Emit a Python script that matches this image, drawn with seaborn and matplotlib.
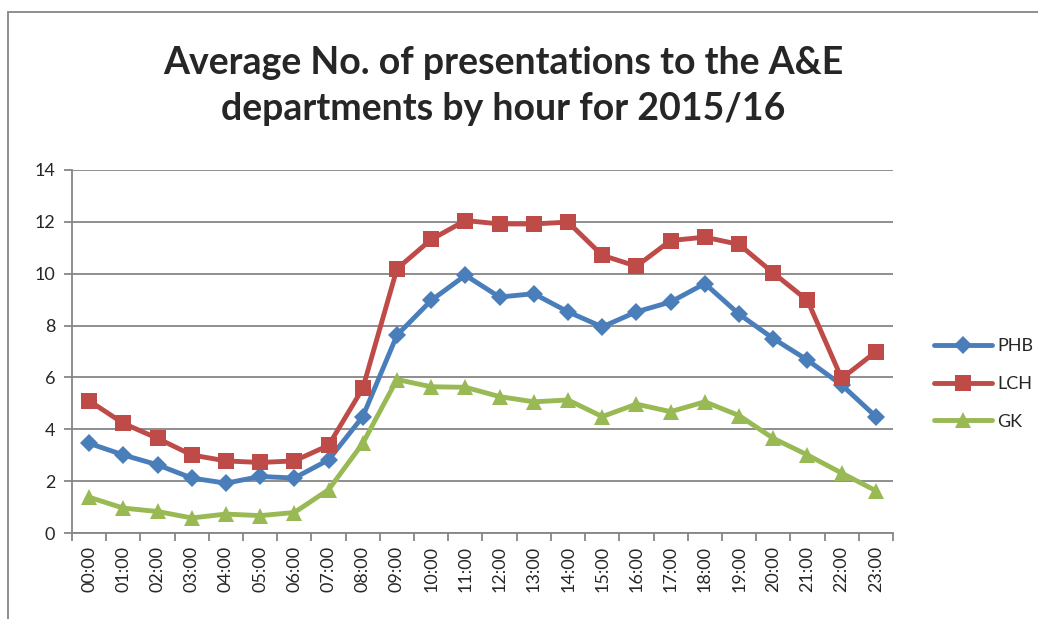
import numpy as np
import pandas as pd
import matplotlib
matplotlib.use("Agg")
import matplotlib.pyplot as plt
from matplotlib.lines import Line2D
import seaborn as sns

sns.set_theme(style="white")
plt.rcParams['font.family'] = ['Lato', 'DejaVu Sans']

hours = ["%02d:00" % h for h in range(24)]
phb = [3.46, 3.01, 2.63, 2.12, 1.92, 2.18, 2.12, 2.82, 4.49, 7.63, 8.97, 9.94,
       9.10, 9.23, 8.53, 7.95, 8.53, 8.91, 9.62, 8.44, 7.50, 6.67, 5.71, 4.49]
lch = [5.10, 4.23, 3.65, 3.01, 2.78, 2.72, 2.78, 3.38, 5.58, 10.19, 11.32, 12.05,
       11.92, 11.92, 11.99, 10.71, 10.29, 11.28, 11.41, 11.13, 10.03, 8.97, 5.96, 6.99]
gk = [1.38, 0.96, 0.83, 0.58, 0.73, 0.67, 0.79, 1.67, 3.46, 5.92, 5.64, 5.62,
      5.26, 5.06, 5.13, 4.49, 4.97, 4.68, 5.06, 4.53, 3.65, 3.01, 2.31, 1.63]
series = ["PHB", "LCH", "GK"]
colors = {"PHB": "#4A7EBB", "LCH": "#BE4B48", "GK": "#98B954"}
markers = {"PHB": "D", "LCH": "s", "GK": "^"}
msize = {"PHB": 9, "LCH": 11, "GK": 12}

df = pd.DataFrame({
    "pos": np.tile(np.arange(len(hours)), 3),
    "value": phb + lch + gk,
    "site": np.repeat(series, len(hours)),
})

fig = plt.figure(figsize=(10.38, 6.19), dpi=100)
ax = fig.add_axes([72/1038, 1-533/619, (893-72)/1038, (533-170)/619])

sns.lineplot(data=df, x="pos", y="value", hue="site", style="site",
             palette=colors, markers=markers, dashes=False, linewidth=3.5,
             markersize=11, markeredgewidth=0, ax=ax, legend=False)
for ln, s in zip(ax.get_lines(), series):
    ln.set_markersize(msize[s])

ax.set_xlim(-0.5, len(hours) - 0.5)
ax.set_ylim(0, 14)
ax.set_yticks(range(0, 15, 2))
ax.set_xticks(range(len(hours)))
ax.set_xticklabels(hours, rotation=90)
ax.set_xticks(np.arange(-0.5, len(hours), 1), minor=True)
ax.tick_params(axis="x", which="major", length=0, pad=9, labelsize=13)
ax.tick_params(axis="x", which="minor", length=6, width=1.3, color="#868686",
               direction="out", bottom=True)
ax.tick_params(axis="y", length=6, width=1.3, color="#868686", direction="out",
               left=True, labelsize=13, pad=6)
ax.grid(axis="y", color="#868686", linewidth=1.3)
ax.set_axisbelow(True)
for s in ["top", "right"]:
    ax.spines[s].set_visible(False)
for s in ["left", "bottom"]:
    ax.spines[s].set_color("#868686")
    ax.spines[s].set_linewidth(1.3)
ax.set_xlabel("")
ax.set_ylabel("")

handles = [Line2D([], [], color=colors[s], marker=markers[s], lw=3.5,
                  markersize=msize[s], markeredgewidth=0)
           for s in series]
fig.legend(handles, series, loc="center left", bbox_to_anchor=(918/1038, 1-384/619),
           frameon=False, fontsize=13, handlelength=3.2, labelspacing=1.2,
           handletextpad=0.3)

fig.text(0.485, 1-63/619, "Average No. of presentations to the A&E",
         ha="center", va="center", fontsize=27, fontweight="bold")
fig.text(0.485, 1-109/619, "departments by hour for 2015/16",
         ha="center", va="center", fontsize=27, fontweight="bold")

# chart frame (top and left edges visible)
fig.add_artist(Line2D([8/1038, 8/1038], [0, 1-12/619], color="#868686", lw=1.3,
                      transform=fig.transFigure))
fig.add_artist(Line2D([8/1038, 1], [1-12/619, 1-12/619], color="#868686", lw=1.3,
                      transform=fig.transFigure))

fig.savefig("out.png", dpi=100)
